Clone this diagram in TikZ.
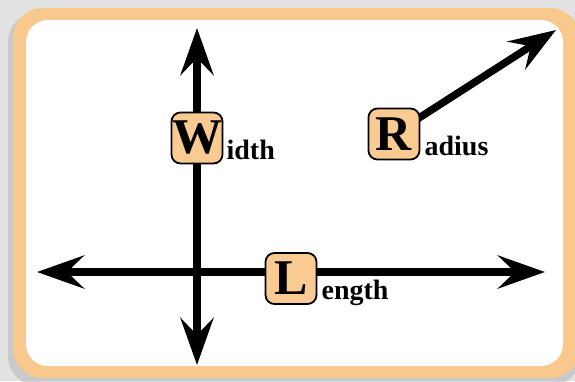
\documentclass[tikz,border=0pt]{standalone}
\usepackage{fontspec}
\setmainfont{Liberation Serif}
\usetikzlibrary{arrows.meta}
\definecolor{cardorange}{HTML}{F8C88C}
\definecolor{boxfill}{HTML}{F9CA92}
\definecolor{bggray}{HTML}{E2E2E2}
\begin{document}
\begin{tikzpicture}[x=1pt,y=-1pt,
  axis/.style={line width=7.5pt, black,
    arrows={-Stealth[length=47pt,width=33pt,inset=17pt]}},
  letterbox/.style={draw=black, line width=1.8pt, fill=boxfill,
    rounded corners=9pt, minimum width=51pt, minimum height=51pt,
    inner sep=0pt, font=\fontsize{50}{50}\selectfont\bfseries},
  lbl/.style={anchor=base west, inner sep=0pt,
    font=\fontsize{28}{28}\selectfont\bfseries}]
\useasboundingbox (0,0) rectangle (575,381);
% background and card
\fill[bggray] (0,0) rectangle (575,381);
\fill[gray!55, opacity=0.6, rounded corners=30pt] (8,12) rectangle (580,386);
\fill[cardorange, rounded corners=30pt] (13,8) rectangle (580,378);
\fill[white, rounded corners=22pt] (26,20) rectangle (563,366);
% coordinates
\coordinate (vtop) at (197,28);
\coordinate (vbot) at (197,365);
\coordinate (hleft) at (37,272);
\coordinate (hright) at (545,272);
\coordinate (rc) at (394,134);
\coordinate (rtip) at (556,30);
% axes
\draw[axis, {Stealth[length=47pt,width=33pt,inset=17pt]}-{Stealth[length=47pt,width=33pt,inset=17pt]}] (vtop) -- (vbot);
\draw[axis, {Stealth[length=47pt,width=33pt,inset=17pt]}-{Stealth[length=47pt,width=33pt,inset=17pt]}] (hleft) -- (hright);
\draw[axis] (rc) -- (rtip);
% letter boxes
\node[letterbox] (W) at (197,138) {W};
\node[letterbox] (R) at (rc) {R};
\node[letterbox] (L) at (291,278.5) {L};
% labels
\node[lbl] (Wt) at ([xshift=3pt,yshift=5pt]W.south east) {idth};
\node[lbl] (Rt) at ([xshift=4pt,yshift=5pt]R.south east) {adius};
\node[lbl] (Lt) at ([xshift=4pt,yshift=5pt]L.south east) {ength};
\end{tikzpicture}
\end{document}
